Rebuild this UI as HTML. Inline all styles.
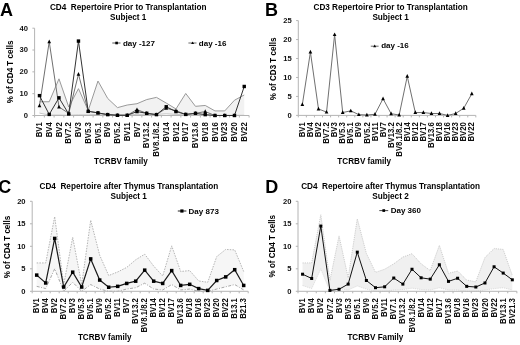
<!DOCTYPE html><html><head><meta charset="utf-8"><style>html,body{margin:0;padding:0;background:#fff;}svg{display:block;will-change:transform;}text{font-family:"Liberation Sans", sans-serif;}</style></head><body>
<svg width="520" height="345" viewBox="0 0 520 345">
<rect width="520" height="345" fill="#fff"/>
<polygon points="39.48,101.75 49.23,101.75 58.98,78.83 68.72,106.99 78.47,88.66 88.22,110.48 97.97,81.02 107.72,98.48 117.47,107.64 127.22,105.02 136.97,103.71 146.72,99.57 156.47,97.39 166.22,103.06 175.97,108.95 185.72,93.46 195.47,106.33 205.22,105.46 214.97,110.92 224.72,110.92 234.47,100.22 244.22,94.98 244.22,115.28 234.47,115.28 224.72,115.28 214.97,115.28 205.22,114.85 195.47,114.85 185.72,114.85 175.97,114.41 166.22,113.75 156.47,114.41 146.72,114.41 136.97,114.41 127.22,114.85 117.47,114.85 107.72,114.41 97.97,114.41 88.22,114.85 78.47,114.85 68.72,115.28 58.98,115.06 49.23,115.06 39.48,113.1" fill="#f2f2f2" stroke="none"/>
<polyline points="39.48,101.75 49.23,101.75 58.98,78.83 68.72,106.99 78.47,88.66 88.22,110.48 97.97,81.02 107.72,98.48 117.47,107.64 127.22,105.02 136.97,103.71 146.72,99.57 156.47,97.39 166.22,103.06 175.97,108.95 185.72,93.46 195.47,106.33 205.22,105.46 214.97,110.92 224.72,110.92 234.47,100.22 244.22,94.98" fill="none" stroke="#9a9a9a" stroke-width="1" />
<polyline points="39.48,113.1 49.23,115.06 58.98,115.06 68.72,115.28 78.47,114.85 88.22,114.85 97.97,114.41 107.72,114.41 117.47,114.85 127.22,114.85 136.97,114.41 146.72,114.41 156.47,114.41 166.22,113.75 175.97,114.41 185.72,114.85 195.47,114.85 205.22,114.85 214.97,115.28 224.72,115.28 234.47,115.28 244.22,115.28" fill="none" stroke="#c8c8c8" stroke-width="1" />
<g stroke="#b4b4b4" stroke-width="1" fill="none">
<line x1="34.6" y1="28.2" x2="34.6" y2="115.5"/>
<line x1="34.6" y1="115.5" x2="249.1" y2="115.5"/>
<line x1="32.4" y1="115.5" x2="34.6" y2="115.5"/>
<line x1="32.4" y1="93.67" x2="34.6" y2="93.67"/>
<line x1="32.4" y1="71.85" x2="34.6" y2="71.85"/>
<line x1="32.4" y1="50.03" x2="34.6" y2="50.03"/>
<line x1="32.4" y1="28.2" x2="34.6" y2="28.2"/>
<line x1="34.6" y1="115.5" x2="34.6" y2="117.5"/>
<line x1="44.35" y1="115.5" x2="44.35" y2="117.5"/>
<line x1="54.1" y1="115.5" x2="54.1" y2="117.5"/>
<line x1="63.85" y1="115.5" x2="63.85" y2="117.5"/>
<line x1="73.6" y1="115.5" x2="73.6" y2="117.5"/>
<line x1="83.35" y1="115.5" x2="83.35" y2="117.5"/>
<line x1="93.1" y1="115.5" x2="93.1" y2="117.5"/>
<line x1="102.85" y1="115.5" x2="102.85" y2="117.5"/>
<line x1="112.6" y1="115.5" x2="112.6" y2="117.5"/>
<line x1="122.35" y1="115.5" x2="122.35" y2="117.5"/>
<line x1="132.1" y1="115.5" x2="132.1" y2="117.5"/>
<line x1="141.85" y1="115.5" x2="141.85" y2="117.5"/>
<line x1="151.6" y1="115.5" x2="151.6" y2="117.5"/>
<line x1="161.35" y1="115.5" x2="161.35" y2="117.5"/>
<line x1="171.1" y1="115.5" x2="171.1" y2="117.5"/>
<line x1="180.85" y1="115.5" x2="180.85" y2="117.5"/>
<line x1="190.6" y1="115.5" x2="190.6" y2="117.5"/>
<line x1="200.35" y1="115.5" x2="200.35" y2="117.5"/>
<line x1="210.1" y1="115.5" x2="210.1" y2="117.5"/>
<line x1="219.85" y1="115.5" x2="219.85" y2="117.5"/>
<line x1="229.6" y1="115.5" x2="229.6" y2="117.5"/>
<line x1="239.35" y1="115.5" x2="239.35" y2="117.5"/>
<line x1="249.1" y1="115.5" x2="249.1" y2="117.5"/>
</g>
<g font-size="7.6" font-weight="bold" text-anchor="end" fill="#111">
<text x="28" y="117.8">0</text>
<text x="28" y="95.97">10</text>
<text x="28" y="74.15">20</text>
<text x="28" y="52.33">30</text>
<text x="28" y="30.5">40</text>
</g>
<g font-size="7.75" font-weight="bold" text-anchor="end" fill="#111">
<text transform="translate(42.08,122.3) rotate(-90) scale(1,1.12)">BV1</text>
<text transform="translate(51.83,122.3) rotate(-90) scale(1,1.12)">BV4</text>
<text transform="translate(61.58,122.3) rotate(-90) scale(1,1.12)">BV2</text>
<text transform="translate(71.32,122.3) rotate(-90) scale(1,1.12)">BV7.2</text>
<text transform="translate(81.07,122.3) rotate(-90) scale(1,1.12)">BV3</text>
<text transform="translate(90.82,122.3) rotate(-90) scale(1,1.12)">BV5.3</text>
<text transform="translate(100.57,122.3) rotate(-90) scale(1,1.12)">BV5.1</text>
<text transform="translate(110.32,122.3) rotate(-90) scale(1,1.12)">BV9</text>
<text transform="translate(120.07,122.3) rotate(-90) scale(1,1.12)">BV5.2</text>
<text transform="translate(129.82,122.3) rotate(-90) scale(1,1.12)">BV11</text>
<text transform="translate(139.57,122.3) rotate(-90) scale(1,1.12)">BV7</text>
<text transform="translate(149.32,122.3) rotate(-90) scale(1,1.12)">BV13.2</text>
<text transform="translate(159.07,122.3) rotate(-90) scale(1,1.12)">BV8.1/8.2</text>
<text transform="translate(168.82,122.3) rotate(-90) scale(1,1.12)">BV14</text>
<text transform="translate(178.57,122.3) rotate(-90) scale(1,1.12)">BV12</text>
<text transform="translate(188.32,122.3) rotate(-90) scale(1,1.12)">BV17</text>
<text transform="translate(198.07,122.3) rotate(-90) scale(1,1.12)">BV13.6</text>
<text transform="translate(207.82,122.3) rotate(-90) scale(1,1.12)">BV18</text>
<text transform="translate(217.57,122.3) rotate(-90) scale(1,1.12)">BV16</text>
<text transform="translate(227.32,122.3) rotate(-90) scale(1,1.12)">BV23</text>
<text transform="translate(237.07,122.3) rotate(-90) scale(1,1.12)">BV20</text>
<text transform="translate(246.82,122.3) rotate(-90) scale(1,1.12)">BV22</text>
</g>
<polyline points="39.48,105.68 49.23,41.73 58.98,106.99 68.72,113.32 78.47,74.25 88.22,111.14 97.97,112.88 107.72,114.63 117.47,115.28 127.22,115.28 136.97,109.61 146.72,113.32 156.47,114.63 166.22,108.3 175.97,110.7 185.72,114.41 195.47,113.32 205.22,111.57 214.97,115.5 224.72,115.5 234.47,115.5" fill="none" stroke="#707070" stroke-width="1.0"/>
<path d="M39.48 103.46L41.33 107.16L37.62 107.16Z" fill="#000"/>
<path d="M49.23 39.51L51.08 43.21L47.38 43.21Z" fill="#000"/>
<path d="M58.98 104.77L60.83 108.47L57.12 108.47Z" fill="#000"/>
<path d="M68.72 111.1L70.57 114.8L66.88 114.8Z" fill="#000"/>
<path d="M78.47 72.03L80.32 75.73L76.62 75.73Z" fill="#000"/>
<path d="M88.22 108.92L90.07 112.62L86.38 112.62Z" fill="#000"/>
<path d="M97.97 110.66L99.82 114.36L96.12 114.36Z" fill="#000"/>
<path d="M107.72 112.41L109.57 116.11L105.88 116.11Z" fill="#000"/>
<path d="M117.47 113.06L119.32 116.76L115.62 116.76Z" fill="#000"/>
<path d="M127.22 113.06L129.07 116.76L125.38 116.76Z" fill="#000"/>
<path d="M136.97 107.39L138.82 111.09L135.12 111.09Z" fill="#000"/>
<path d="M146.72 111.1L148.57 114.8L144.88 114.8Z" fill="#000"/>
<path d="M156.47 112.41L158.32 116.11L154.62 116.11Z" fill="#000"/>
<path d="M166.22 106.08L168.07 109.78L164.38 109.78Z" fill="#000"/>
<path d="M175.97 108.48L177.82 112.18L174.12 112.18Z" fill="#000"/>
<path d="M185.72 112.19L187.57 115.89L183.88 115.89Z" fill="#000"/>
<path d="M195.47 111.1L197.32 114.8L193.62 114.8Z" fill="#000"/>
<path d="M205.22 109.35L207.07 113.05L203.38 113.05Z" fill="#000"/>
<path d="M214.97 113.28L216.82 116.98L213.12 116.98Z" fill="#000"/>
<path d="M224.72 113.28L226.57 116.98L222.88 116.98Z" fill="#000"/>
<path d="M234.47 113.28L236.32 116.98L232.62 116.98Z" fill="#000"/>
<polyline points="39.48,95.64 49.23,114.41 58.98,97.82 68.72,113.97 78.47,41.08 88.22,111.35 97.97,112.88 107.72,114.63 117.47,115.28 127.22,115.28 136.97,111.57 146.72,113.32 156.47,114.63 166.22,106.77 175.97,111.57 185.72,114.41 195.47,113.32 205.22,114.63 214.97,115.5 224.72,115.5 234.47,115.5 244.22,86.47" fill="none" stroke="#333" stroke-width="1.0" stroke-linejoin="miter"/>
<rect x="37.77" y="93.94" width="3.4" height="3.4" fill="#000"/>
<rect x="47.52" y="112.71" width="3.4" height="3.4" fill="#000"/>
<rect x="57.27" y="96.12" width="3.4" height="3.4" fill="#000"/>
<rect x="67.02" y="112.27" width="3.4" height="3.4" fill="#000"/>
<rect x="76.77" y="39.38" width="3.4" height="3.4" fill="#000"/>
<rect x="86.52" y="109.65" width="3.4" height="3.4" fill="#000"/>
<rect x="96.27" y="111.18" width="3.4" height="3.4" fill="#000"/>
<rect x="106.02" y="112.93" width="3.4" height="3.4" fill="#000"/>
<rect x="115.77" y="113.58" width="3.4" height="3.4" fill="#000"/>
<rect x="125.52" y="113.58" width="3.4" height="3.4" fill="#000"/>
<rect x="135.28" y="109.87" width="3.4" height="3.4" fill="#000"/>
<rect x="145.03" y="111.62" width="3.4" height="3.4" fill="#000"/>
<rect x="154.78" y="112.93" width="3.4" height="3.4" fill="#000"/>
<rect x="164.53" y="105.07" width="3.4" height="3.4" fill="#000"/>
<rect x="174.28" y="109.87" width="3.4" height="3.4" fill="#000"/>
<rect x="184.03" y="112.71" width="3.4" height="3.4" fill="#000"/>
<rect x="193.78" y="111.62" width="3.4" height="3.4" fill="#000"/>
<rect x="203.53" y="112.93" width="3.4" height="3.4" fill="#000"/>
<rect x="213.28" y="113.8" width="3.4" height="3.4" fill="#000"/>
<rect x="223.03" y="113.8" width="3.4" height="3.4" fill="#000"/>
<rect x="232.78" y="113.8" width="3.4" height="3.4" fill="#000"/>
<rect x="242.53" y="84.77" width="3.4" height="3.4" fill="#000"/>
<text x="0" y="15.9" font-size="18" font-weight="bold" text-anchor="start" >A</text>
<text x="128.2" y="10" font-size="8.2" font-weight="bold" text-anchor="middle" >CD4&#160; Repertoire Prior to Transplantation</text>
<text x="128.2" y="20.2" font-size="8.2" font-weight="bold" text-anchor="middle" >Subject 1</text>
<line x1="112.3" y1="43" x2="120.5" y2="43" stroke="#444" stroke-width="0.9"/>
<rect x="115.3" y="41.7" width="2.6" height="2.6" fill="#000"/>
<text x="122.9" y="45.6" font-size="8" font-weight="bold" text-anchor="start" >day -127</text>
<line x1="188.4" y1="43" x2="196.5" y2="43" stroke="#444" stroke-width="0.8"/>
<path d="M192.6 41.4L194.1 44.0L191.1 44.0Z" fill="#000"/>
<text x="198.8" y="45.6" font-size="8" font-weight="bold" text-anchor="start" >day -16</text>
<text x="120.9" y="164.2" font-size="8.15" font-weight="bold" text-anchor="middle" >TCRBV family</text>
<text x="0" y="0" font-size="7.9" font-weight="bold" text-anchor="middle" transform="translate(12.8,71.9) rotate(-90) scale(1.02,1.08)">% of CD4 T cells</text>
<g stroke="#b4b4b4" stroke-width="1" fill="none">
<line x1="298.3" y1="20.6" x2="298.3" y2="115.4"/>
<line x1="298.3" y1="115.4" x2="475.84" y2="115.4"/>
<line x1="296.1" y1="115.4" x2="298.3" y2="115.4"/>
<line x1="296.1" y1="96.44" x2="298.3" y2="96.44"/>
<line x1="296.1" y1="77.48" x2="298.3" y2="77.48"/>
<line x1="296.1" y1="58.52" x2="298.3" y2="58.52"/>
<line x1="296.1" y1="39.56" x2="298.3" y2="39.56"/>
<line x1="296.1" y1="20.6" x2="298.3" y2="20.6"/>
<line x1="298.3" y1="115.4" x2="298.3" y2="117.4"/>
<line x1="306.37" y1="115.4" x2="306.37" y2="117.4"/>
<line x1="314.44" y1="115.4" x2="314.44" y2="117.4"/>
<line x1="322.51" y1="115.4" x2="322.51" y2="117.4"/>
<line x1="330.58" y1="115.4" x2="330.58" y2="117.4"/>
<line x1="338.65" y1="115.4" x2="338.65" y2="117.4"/>
<line x1="346.72" y1="115.4" x2="346.72" y2="117.4"/>
<line x1="354.79" y1="115.4" x2="354.79" y2="117.4"/>
<line x1="362.86" y1="115.4" x2="362.86" y2="117.4"/>
<line x1="370.93" y1="115.4" x2="370.93" y2="117.4"/>
<line x1="379" y1="115.4" x2="379" y2="117.4"/>
<line x1="387.07" y1="115.4" x2="387.07" y2="117.4"/>
<line x1="395.14" y1="115.4" x2="395.14" y2="117.4"/>
<line x1="403.21" y1="115.4" x2="403.21" y2="117.4"/>
<line x1="411.28" y1="115.4" x2="411.28" y2="117.4"/>
<line x1="419.35" y1="115.4" x2="419.35" y2="117.4"/>
<line x1="427.42" y1="115.4" x2="427.42" y2="117.4"/>
<line x1="435.49" y1="115.4" x2="435.49" y2="117.4"/>
<line x1="443.56" y1="115.4" x2="443.56" y2="117.4"/>
<line x1="451.63" y1="115.4" x2="451.63" y2="117.4"/>
<line x1="459.7" y1="115.4" x2="459.7" y2="117.4"/>
<line x1="467.77" y1="115.4" x2="467.77" y2="117.4"/>
<line x1="475.84" y1="115.4" x2="475.84" y2="117.4"/>
</g>
<g font-size="7.6" font-weight="bold" text-anchor="end" fill="#111">
<text x="291.7" y="117.7">0</text>
<text x="291.7" y="98.74">5</text>
<text x="291.7" y="79.78">10</text>
<text x="291.7" y="60.82">15</text>
<text x="291.7" y="41.86">20</text>
<text x="291.7" y="22.9">25</text>
</g>
<g font-size="7.75" font-weight="bold" text-anchor="end" fill="#111">
<text transform="translate(304.94,122.2) rotate(-90) scale(1,1.12)">BV1</text>
<text transform="translate(313.01,122.2) rotate(-90) scale(1,1.12)">BV4</text>
<text transform="translate(321.08,122.2) rotate(-90) scale(1,1.12)">BV2</text>
<text transform="translate(329.15,122.2) rotate(-90) scale(1,1.12)">BV7.2</text>
<text transform="translate(337.22,122.2) rotate(-90) scale(1,1.12)">BV3</text>
<text transform="translate(345.29,122.2) rotate(-90) scale(1,1.12)">BV5.3</text>
<text transform="translate(353.36,122.2) rotate(-90) scale(1,1.12)">BV5.1</text>
<text transform="translate(361.43,122.2) rotate(-90) scale(1,1.12)">BV9</text>
<text transform="translate(369.5,122.2) rotate(-90) scale(1,1.12)">BV5.2</text>
<text transform="translate(377.57,122.2) rotate(-90) scale(1,1.12)">BV11</text>
<text transform="translate(385.64,122.2) rotate(-90) scale(1,1.12)">BV7</text>
<text transform="translate(393.71,122.2) rotate(-90) scale(1,1.12)">BV13.2</text>
<text transform="translate(401.78,122.2) rotate(-90) scale(1,1.12)">BV8.1/8.2</text>
<text transform="translate(409.85,122.2) rotate(-90) scale(1,1.12)">BV14</text>
<text transform="translate(417.92,122.2) rotate(-90) scale(1,1.12)">BV12</text>
<text transform="translate(425.99,122.2) rotate(-90) scale(1,1.12)">BV17</text>
<text transform="translate(434.06,122.2) rotate(-90) scale(1,1.12)">BV13.6</text>
<text transform="translate(442.12,122.2) rotate(-90) scale(1,1.12)">BV18</text>
<text transform="translate(450.2,122.2) rotate(-90) scale(1,1.12)">BV16</text>
<text transform="translate(458.27,122.2) rotate(-90) scale(1,1.12)">BV23</text>
<text transform="translate(466.34,122.2) rotate(-90) scale(1,1.12)">BV20</text>
<text transform="translate(474.41,122.2) rotate(-90) scale(1,1.12)">BV22</text>
</g>
<polyline points="302.34,104.59 310.41,52.07 318.48,108.95 326.55,112.1 334.62,34.63 342.69,112.52 350.75,110.85 358.83,114.64 366.89,115.02 374.97,114.26 383.04,98.72 391.11,113.69 399.18,115.02 407.25,76.34 415.31,112.56 423.38,112.56 431.46,113.5 439.52,113.5 447.6,115.4 455.67,113.5 463.74,108.2 471.81,93.79" fill="none" stroke="#707070" stroke-width="1.0"/>
<path d="M302.34 102.37L304.19 106.07L300.49 106.07Z" fill="#000"/>
<path d="M310.41 49.85L312.26 53.55L308.56 53.55Z" fill="#000"/>
<path d="M318.48 106.73L320.33 110.43L316.62 110.43Z" fill="#000"/>
<path d="M326.55 109.88L328.4 113.58L324.69 113.58Z" fill="#000"/>
<path d="M334.62 32.41L336.47 36.11L332.76 36.11Z" fill="#000"/>
<path d="M342.69 110.3L344.54 114L340.83 114Z" fill="#000"/>
<path d="M350.75 108.63L352.61 112.33L348.9 112.33Z" fill="#000"/>
<path d="M358.83 112.42L360.68 116.12L356.98 116.12Z" fill="#000"/>
<path d="M366.89 112.8L368.75 116.5L365.04 116.5Z" fill="#000"/>
<path d="M374.97 112.04L376.82 115.74L373.12 115.74Z" fill="#000"/>
<path d="M383.04 96.5L384.89 100.2L381.19 100.2Z" fill="#000"/>
<path d="M391.11 111.47L392.96 115.17L389.25 115.17Z" fill="#000"/>
<path d="M399.18 112.8L401.03 116.5L397.32 116.5Z" fill="#000"/>
<path d="M407.25 74.12L409.1 77.82L405.39 77.82Z" fill="#000"/>
<path d="M415.31 110.34L417.17 114.04L413.46 114.04Z" fill="#000"/>
<path d="M423.38 110.34L425.24 114.04L421.53 114.04Z" fill="#000"/>
<path d="M431.46 111.28L433.31 114.98L429.61 114.98Z" fill="#000"/>
<path d="M439.52 111.28L441.38 114.98L437.67 114.98Z" fill="#000"/>
<path d="M447.6 113.18L449.45 116.88L445.75 116.88Z" fill="#000"/>
<path d="M455.67 111.28L457.52 114.98L453.81 114.98Z" fill="#000"/>
<path d="M463.74 105.98L465.59 109.68L461.88 109.68Z" fill="#000"/>
<path d="M471.81 91.57L473.66 95.27L469.95 95.27Z" fill="#000"/>
<text x="265.1" y="15.9" font-size="18" font-weight="bold" text-anchor="start" >B</text>
<text x="390.6" y="10" font-size="8.2" font-weight="bold" text-anchor="middle" >CD3 Repertoire Prior to Transplantation</text>
<text x="390.6" y="20.2" font-size="8.2" font-weight="bold" text-anchor="middle" >Subject 1</text>
<line x1="370.8" y1="46.2" x2="378.6" y2="46.2" stroke="#444" stroke-width="0.8"/>
<path d="M374.7 44.6L376.2 47.2L373.2 47.2Z" fill="#000"/>
<text x="381.2" y="47.9" font-size="8" font-weight="bold" text-anchor="start" >day -16</text>
<text x="364.2" y="164.2" font-size="8.15" font-weight="bold" text-anchor="middle" >TCRBV family</text>
<text x="0" y="0" font-size="7.9" font-weight="bold" text-anchor="middle" transform="translate(276.2,68.9) rotate(-90) scale(1.02,1.08)">% of CD3 T cells</text>
<polygon points="36.7,262.95 45.7,262.95 54.7,216.6 63.7,284.55 72.7,237.3 81.7,284.55 90.7,220.2 99.7,255.3 108.7,275.55 117.7,271.95 126.7,267.45 135.7,259.8 144.7,254.18 153.7,266.1 162.7,276 171.7,245.85 180.7,271.5 189.7,270.6 198.7,280.95 207.7,282.3 216.7,256.65 225.7,249.45 234.7,249.9 243.7,271.5 243.7,289.95 234.7,284.55 225.7,286.8 216.7,289.05 207.7,291.3 198.7,291.3 189.7,289.05 180.7,289.95 171.7,284.55 162.7,289.95 153.7,289.05 144.7,283.2 135.7,287.7 126.7,289.05 117.7,291.3 108.7,291.3 99.7,289.05 90.7,284.55 81.7,291.3 72.7,282.3 63.7,291.3 54.7,268.8 45.7,288.6 36.7,286.35" fill="#f6f6f6" stroke="none"/>
<polyline points="36.7,262.95 45.7,262.95 54.7,216.6 63.7,284.55 72.7,237.3 81.7,284.55 90.7,220.2 99.7,255.3 108.7,275.55 117.7,271.95 126.7,267.45 135.7,259.8 144.7,254.18 153.7,266.1 162.7,276 171.7,245.85 180.7,271.5 189.7,270.6 198.7,280.95 207.7,282.3 216.7,256.65 225.7,249.45 234.7,249.9 243.7,271.5" fill="none" stroke="#b4b4b4" stroke-width="1" stroke-dasharray="1.5,1.2"/>
<polyline points="36.7,286.35 45.7,288.6 54.7,268.8 63.7,291.3 72.7,282.3 81.7,291.3 90.7,284.55 99.7,289.05 108.7,291.3 117.7,291.3 126.7,289.05 135.7,287.7 144.7,283.2 153.7,289.05 162.7,289.95 171.7,284.55 180.7,289.95 189.7,289.05 198.7,291.3 207.7,291.3 216.7,289.05 225.7,286.8 234.7,284.55 243.7,289.95" fill="none" stroke="#a8a8a8" stroke-width="1" stroke-dasharray="3,1.5,1,1.5"/>
<g stroke="#b4b4b4" stroke-width="1" fill="none">
<line x1="32.2" y1="201.3" x2="32.2" y2="291.3"/>
<line x1="32.2" y1="291.3" x2="248.2" y2="291.3"/>
<line x1="30" y1="291.3" x2="32.2" y2="291.3"/>
<line x1="30" y1="268.8" x2="32.2" y2="268.8"/>
<line x1="30" y1="246.3" x2="32.2" y2="246.3"/>
<line x1="30" y1="223.8" x2="32.2" y2="223.8"/>
<line x1="30" y1="201.3" x2="32.2" y2="201.3"/>
<line x1="32.2" y1="291.3" x2="32.2" y2="293.3"/>
<line x1="41.2" y1="291.3" x2="41.2" y2="293.3"/>
<line x1="50.2" y1="291.3" x2="50.2" y2="293.3"/>
<line x1="59.2" y1="291.3" x2="59.2" y2="293.3"/>
<line x1="68.2" y1="291.3" x2="68.2" y2="293.3"/>
<line x1="77.2" y1="291.3" x2="77.2" y2="293.3"/>
<line x1="86.2" y1="291.3" x2="86.2" y2="293.3"/>
<line x1="95.2" y1="291.3" x2="95.2" y2="293.3"/>
<line x1="104.2" y1="291.3" x2="104.2" y2="293.3"/>
<line x1="113.2" y1="291.3" x2="113.2" y2="293.3"/>
<line x1="122.2" y1="291.3" x2="122.2" y2="293.3"/>
<line x1="131.2" y1="291.3" x2="131.2" y2="293.3"/>
<line x1="140.2" y1="291.3" x2="140.2" y2="293.3"/>
<line x1="149.2" y1="291.3" x2="149.2" y2="293.3"/>
<line x1="158.2" y1="291.3" x2="158.2" y2="293.3"/>
<line x1="167.2" y1="291.3" x2="167.2" y2="293.3"/>
<line x1="176.2" y1="291.3" x2="176.2" y2="293.3"/>
<line x1="185.2" y1="291.3" x2="185.2" y2="293.3"/>
<line x1="194.2" y1="291.3" x2="194.2" y2="293.3"/>
<line x1="203.2" y1="291.3" x2="203.2" y2="293.3"/>
<line x1="212.2" y1="291.3" x2="212.2" y2="293.3"/>
<line x1="221.2" y1="291.3" x2="221.2" y2="293.3"/>
<line x1="230.2" y1="291.3" x2="230.2" y2="293.3"/>
<line x1="239.2" y1="291.3" x2="239.2" y2="293.3"/>
<line x1="248.2" y1="291.3" x2="248.2" y2="293.3"/>
</g>
<g font-size="7.6" font-weight="bold" text-anchor="end" fill="#111">
<text x="25.6" y="293.6">0</text>
<text x="25.6" y="271.1">5</text>
<text x="25.6" y="248.6">10</text>
<text x="25.6" y="226.1">15</text>
<text x="25.6" y="203.6">20</text>
</g>
<g font-size="7.75" font-weight="bold" text-anchor="end" fill="#111">
<text transform="translate(39.3,298.1) rotate(-90) scale(1,1.12)">BV1</text>
<text transform="translate(48.3,298.1) rotate(-90) scale(1,1.12)">BV4</text>
<text transform="translate(57.3,298.1) rotate(-90) scale(1,1.12)">BV2</text>
<text transform="translate(66.3,298.1) rotate(-90) scale(1,1.12)">BV7.2</text>
<text transform="translate(75.3,298.1) rotate(-90) scale(1,1.12)">BV3</text>
<text transform="translate(84.3,298.1) rotate(-90) scale(1,1.12)">BV5.3</text>
<text transform="translate(93.3,298.1) rotate(-90) scale(1,1.12)">BV5.1</text>
<text transform="translate(102.3,298.1) rotate(-90) scale(1,1.12)">BV9</text>
<text transform="translate(111.3,298.1) rotate(-90) scale(1,1.12)">BV5.2</text>
<text transform="translate(120.3,298.1) rotate(-90) scale(1,1.12)">BV11</text>
<text transform="translate(129.3,298.1) rotate(-90) scale(1,1.12)">BV7</text>
<text transform="translate(138.3,298.1) rotate(-90) scale(1,1.12)">BV13.2</text>
<text transform="translate(147.3,298.1) rotate(-90) scale(1,1.12)">BV8.1/8.2</text>
<text transform="translate(156.3,298.1) rotate(-90) scale(1,1.12)">BV14</text>
<text transform="translate(165.3,298.1) rotate(-90) scale(1,1.12)">BV12</text>
<text transform="translate(174.3,298.1) rotate(-90) scale(1,1.12)">BV17</text>
<text transform="translate(183.3,298.1) rotate(-90) scale(1,1.12)">BV13.6</text>
<text transform="translate(192.3,298.1) rotate(-90) scale(1,1.12)">BV18</text>
<text transform="translate(201.3,298.1) rotate(-90) scale(1,1.12)">BV16</text>
<text transform="translate(210.3,298.1) rotate(-90) scale(1,1.12)">BV23</text>
<text transform="translate(219.3,298.1) rotate(-90) scale(1,1.12)">BV20</text>
<text transform="translate(228.3,298.1) rotate(-90) scale(1,1.12)">BV22</text>
<text transform="translate(237.3,298.1) rotate(-90) scale(1,1.12)">B13.1</text>
<text transform="translate(246.3,298.1) rotate(-90) scale(1,1.12)">B21.3</text>
</g>
<polyline points="36.7,275.1 45.7,282.98 54.7,238.43 63.7,287.03 72.7,272.18 81.7,287.03 90.7,258.9 99.7,280.05 108.7,287.25 117.7,286.35 126.7,283.43 135.7,281.18 144.7,270.15 153.7,281.18 162.7,283.43 171.7,270.6 180.7,285.45 189.7,284.32 198.7,288.6 207.7,290.4 216.7,280.5 225.7,276.9 234.7,269.7 243.7,285.45" fill="none" stroke="#1a1a1a" stroke-width="1.2" stroke-linejoin="miter"/>
<rect x="34.95" y="273.35" width="3.5" height="3.5" fill="#000"/>
<rect x="43.95" y="281.23" width="3.5" height="3.5" fill="#000"/>
<rect x="52.95" y="236.68" width="3.5" height="3.5" fill="#000"/>
<rect x="61.95" y="285.28" width="3.5" height="3.5" fill="#000"/>
<rect x="70.95" y="270.43" width="3.5" height="3.5" fill="#000"/>
<rect x="79.95" y="285.28" width="3.5" height="3.5" fill="#000"/>
<rect x="88.95" y="257.15" width="3.5" height="3.5" fill="#000"/>
<rect x="97.95" y="278.3" width="3.5" height="3.5" fill="#000"/>
<rect x="106.95" y="285.5" width="3.5" height="3.5" fill="#000"/>
<rect x="115.95" y="284.6" width="3.5" height="3.5" fill="#000"/>
<rect x="124.95" y="281.68" width="3.5" height="3.5" fill="#000"/>
<rect x="133.95" y="279.43" width="3.5" height="3.5" fill="#000"/>
<rect x="142.95" y="268.4" width="3.5" height="3.5" fill="#000"/>
<rect x="151.95" y="279.43" width="3.5" height="3.5" fill="#000"/>
<rect x="160.95" y="281.68" width="3.5" height="3.5" fill="#000"/>
<rect x="169.95" y="268.85" width="3.5" height="3.5" fill="#000"/>
<rect x="178.95" y="283.7" width="3.5" height="3.5" fill="#000"/>
<rect x="187.95" y="282.57" width="3.5" height="3.5" fill="#000"/>
<rect x="196.95" y="286.85" width="3.5" height="3.5" fill="#000"/>
<rect x="205.95" y="288.65" width="3.5" height="3.5" fill="#000"/>
<rect x="214.95" y="278.75" width="3.5" height="3.5" fill="#000"/>
<rect x="223.95" y="275.15" width="3.5" height="3.5" fill="#000"/>
<rect x="232.95" y="267.95" width="3.5" height="3.5" fill="#000"/>
<rect x="241.95" y="283.7" width="3.5" height="3.5" fill="#000"/>
<text x="-1.7" y="192.8" font-size="18" font-weight="bold" text-anchor="start" >C</text>
<text x="128.9" y="188.8" font-size="8.2" font-weight="bold" text-anchor="middle" >CD4&#160; Repertoire after Thymus Transplantation</text>
<text x="128.7" y="199.2" font-size="8.2" font-weight="bold" text-anchor="middle" >Subject 1</text>
<line x1="177.8" y1="211" x2="186.4" y2="211" stroke="#222" stroke-width="1"/>
<rect x="180.3" y="209.4" width="3.2" height="3.2" fill="#000"/>
<text x="188.6" y="213.8" font-size="8" font-weight="bold" text-anchor="start" >Day 873</text>
<text x="104.75" y="340.2" font-size="8.15" font-weight="bold" text-anchor="middle" >TCRBV family</text>
<text x="0" y="0" font-size="7.9" font-weight="bold" text-anchor="middle" transform="translate(9.5,247) rotate(-90) scale(1.02,1.08)">% of CD4 T cells</text>
<polygon points="302.56,262.95 311.68,262.95 320.8,214.8 329.92,280.5 339.04,235.95 348.16,277.8 357.28,218.85 366.4,253.5 375.52,272.4 384.64,269.25 393.76,263.85 402.88,257.1 412,253.73 421.12,263.85 430.24,270.6 439.36,245.4 448.48,273.3 457.6,271.05 466.72,280.05 475.84,281.85 484.96,257.55 494.08,248.55 503.2,249.45 512.32,275.55 512.32,289.95 503.2,287.7 494.08,288.6 484.96,289.95 475.84,291.3 466.72,291.3 457.6,289.95 448.48,289.95 439.36,287.7 430.24,289.95 421.12,289.5 412,288.15 402.88,289.5 393.76,289.95 384.64,291.3 375.52,291.3 366.4,289.05 357.28,285.9 348.16,289.95 339.04,288.6 329.92,291.3 320.8,268.8 311.68,288.6 302.56,285.45" fill="#f0f0f0" stroke="none"/>
<polyline points="302.56,262.95 311.68,262.95 320.8,214.8 329.92,280.5 339.04,235.95 348.16,277.8 357.28,218.85 366.4,253.5 375.52,272.4 384.64,269.25 393.76,263.85 402.88,257.1 412,253.73 421.12,263.85 430.24,270.6 439.36,245.4 448.48,273.3 457.6,271.05 466.72,280.05 475.84,281.85 484.96,257.55 494.08,248.55 503.2,249.45 512.32,275.55" fill="none" stroke="#cdcdcd" stroke-width="1" stroke-dasharray="1.2,1"/>
<polyline points="302.56,285.45 311.68,288.6 320.8,268.8 329.92,291.3 339.04,288.6 348.16,289.95 357.28,285.9 366.4,289.05 375.52,291.3 384.64,291.3 393.76,289.95 402.88,289.5 412,288.15 421.12,289.5 430.24,289.95 439.36,287.7 448.48,289.95 457.6,289.95 466.72,291.3 475.84,291.3 484.96,289.95 494.08,288.6 503.2,287.7 512.32,289.95" fill="none" stroke="#dcdcdc" stroke-width="1" stroke-dasharray="1.2,1"/>
<g stroke="#b4b4b4" stroke-width="1" fill="none">
<line x1="298" y1="201.3" x2="298" y2="291.3"/>
<line x1="298" y1="291.3" x2="516.88" y2="291.3"/>
<line x1="295.8" y1="291.3" x2="298" y2="291.3"/>
<line x1="295.8" y1="268.8" x2="298" y2="268.8"/>
<line x1="295.8" y1="246.3" x2="298" y2="246.3"/>
<line x1="295.8" y1="223.8" x2="298" y2="223.8"/>
<line x1="295.8" y1="201.3" x2="298" y2="201.3"/>
<line x1="298" y1="291.3" x2="298" y2="293.3"/>
<line x1="307.12" y1="291.3" x2="307.12" y2="293.3"/>
<line x1="316.24" y1="291.3" x2="316.24" y2="293.3"/>
<line x1="325.36" y1="291.3" x2="325.36" y2="293.3"/>
<line x1="334.48" y1="291.3" x2="334.48" y2="293.3"/>
<line x1="343.6" y1="291.3" x2="343.6" y2="293.3"/>
<line x1="352.72" y1="291.3" x2="352.72" y2="293.3"/>
<line x1="361.84" y1="291.3" x2="361.84" y2="293.3"/>
<line x1="370.96" y1="291.3" x2="370.96" y2="293.3"/>
<line x1="380.08" y1="291.3" x2="380.08" y2="293.3"/>
<line x1="389.2" y1="291.3" x2="389.2" y2="293.3"/>
<line x1="398.32" y1="291.3" x2="398.32" y2="293.3"/>
<line x1="407.44" y1="291.3" x2="407.44" y2="293.3"/>
<line x1="416.56" y1="291.3" x2="416.56" y2="293.3"/>
<line x1="425.68" y1="291.3" x2="425.68" y2="293.3"/>
<line x1="434.8" y1="291.3" x2="434.8" y2="293.3"/>
<line x1="443.92" y1="291.3" x2="443.92" y2="293.3"/>
<line x1="453.04" y1="291.3" x2="453.04" y2="293.3"/>
<line x1="462.16" y1="291.3" x2="462.16" y2="293.3"/>
<line x1="471.28" y1="291.3" x2="471.28" y2="293.3"/>
<line x1="480.4" y1="291.3" x2="480.4" y2="293.3"/>
<line x1="489.52" y1="291.3" x2="489.52" y2="293.3"/>
<line x1="498.64" y1="291.3" x2="498.64" y2="293.3"/>
<line x1="507.76" y1="291.3" x2="507.76" y2="293.3"/>
<line x1="516.88" y1="291.3" x2="516.88" y2="293.3"/>
</g>
<g font-size="7.6" font-weight="bold" text-anchor="end" fill="#111">
<text x="291.4" y="293.6">0</text>
<text x="291.4" y="271.1">5</text>
<text x="291.4" y="248.6">10</text>
<text x="291.4" y="226.1">15</text>
<text x="291.4" y="203.6">20</text>
</g>
<g font-size="7.75" font-weight="bold" text-anchor="end" fill="#111">
<text transform="translate(305.16,298.1) rotate(-90) scale(1,1.12)">BV1</text>
<text transform="translate(314.28,298.1) rotate(-90) scale(1,1.12)">BV4</text>
<text transform="translate(323.4,298.1) rotate(-90) scale(1,1.12)">BV2</text>
<text transform="translate(332.52,298.1) rotate(-90) scale(1,1.12)">BV7.2</text>
<text transform="translate(341.64,298.1) rotate(-90) scale(1,1.12)">BV3</text>
<text transform="translate(350.76,298.1) rotate(-90) scale(1,1.12)">BV5.3</text>
<text transform="translate(359.88,298.1) rotate(-90) scale(1,1.12)">BV5.1</text>
<text transform="translate(369,298.1) rotate(-90) scale(1,1.12)">BV9</text>
<text transform="translate(378.12,298.1) rotate(-90) scale(1,1.12)">BV5.2</text>
<text transform="translate(387.24,298.1) rotate(-90) scale(1,1.12)">BV11</text>
<text transform="translate(396.36,298.1) rotate(-90) scale(1,1.12)">BV7.1</text>
<text transform="translate(405.48,298.1) rotate(-90) scale(1,1.12)">BV13.2</text>
<text transform="translate(414.6,298.1) rotate(-90) scale(1,1.12)">BV8.1/8.2</text>
<text transform="translate(423.72,298.1) rotate(-90) scale(1,1.12)">BV14</text>
<text transform="translate(432.84,298.1) rotate(-90) scale(1,1.12)">BV12</text>
<text transform="translate(441.96,298.1) rotate(-90) scale(1,1.12)">BV17</text>
<text transform="translate(451.08,298.1) rotate(-90) scale(1,1.12)">BV13.6</text>
<text transform="translate(460.2,298.1) rotate(-90) scale(1,1.12)">BV18</text>
<text transform="translate(469.32,298.1) rotate(-90) scale(1,1.12)">BV16</text>
<text transform="translate(478.44,298.1) rotate(-90) scale(1,1.12)">BV23</text>
<text transform="translate(487.56,298.1) rotate(-90) scale(1,1.12)">BV20</text>
<text transform="translate(496.68,298.1) rotate(-90) scale(1,1.12)">BV22</text>
<text transform="translate(505.8,298.1) rotate(-90) scale(1,1.12)">BV13.1</text>
<text transform="translate(514.92,298.1) rotate(-90) scale(1,1.12)">BV21.3</text>
</g>
<polyline points="302.56,274.2 311.68,278.48 320.8,226.05 329.92,290.4 339.04,289.28 348.16,284.1 357.28,252.15 366.4,280.5 375.52,287.7 384.64,286.8 393.76,278.03 402.88,284.1 412,269.25 421.12,277.8 430.24,279.15 439.36,264.75 448.48,281.4 457.6,278.25 466.72,286.35 475.84,287.03 484.96,282.98 494.08,266.78 503.2,273.07 512.32,279.82" fill="none" stroke="#111" stroke-width="1.0" stroke-linejoin="miter"/>
<rect x="301.06" y="272.7" width="3.0" height="3.0" fill="#000"/>
<rect x="310.18" y="276.98" width="3.0" height="3.0" fill="#000"/>
<rect x="319.3" y="224.55" width="3.0" height="3.0" fill="#000"/>
<rect x="328.42" y="288.9" width="3.0" height="3.0" fill="#000"/>
<rect x="337.54" y="287.78" width="3.0" height="3.0" fill="#000"/>
<rect x="346.66" y="282.6" width="3.0" height="3.0" fill="#000"/>
<rect x="355.78" y="250.65" width="3.0" height="3.0" fill="#000"/>
<rect x="364.9" y="279" width="3.0" height="3.0" fill="#000"/>
<rect x="374.02" y="286.2" width="3.0" height="3.0" fill="#000"/>
<rect x="383.14" y="285.3" width="3.0" height="3.0" fill="#000"/>
<rect x="392.26" y="276.53" width="3.0" height="3.0" fill="#000"/>
<rect x="401.38" y="282.6" width="3.0" height="3.0" fill="#000"/>
<rect x="410.5" y="267.75" width="3.0" height="3.0" fill="#000"/>
<rect x="419.62" y="276.3" width="3.0" height="3.0" fill="#000"/>
<rect x="428.74" y="277.65" width="3.0" height="3.0" fill="#000"/>
<rect x="437.86" y="263.25" width="3.0" height="3.0" fill="#000"/>
<rect x="446.98" y="279.9" width="3.0" height="3.0" fill="#000"/>
<rect x="456.1" y="276.75" width="3.0" height="3.0" fill="#000"/>
<rect x="465.22" y="284.85" width="3.0" height="3.0" fill="#000"/>
<rect x="474.34" y="285.53" width="3.0" height="3.0" fill="#000"/>
<rect x="483.46" y="281.48" width="3.0" height="3.0" fill="#000"/>
<rect x="492.58" y="265.28" width="3.0" height="3.0" fill="#000"/>
<rect x="501.7" y="271.57" width="3.0" height="3.0" fill="#000"/>
<rect x="510.82" y="278.32" width="3.0" height="3.0" fill="#000"/>
<text x="265.2" y="193" font-size="18" font-weight="bold" text-anchor="start" >D</text>
<text x="390.6" y="188.8" font-size="8.2" font-weight="bold" text-anchor="middle" >CD4&#160; Repertoire after Thymus Transplantation</text>
<text x="390.5" y="199.2" font-size="8.2" font-weight="bold" text-anchor="middle" >Subject 2</text>
<line x1="379.3" y1="210.6" x2="388.2" y2="210.6" stroke="#333" stroke-width="0.9"/>
<rect x="382.4" y="209.2" width="2.7" height="2.7" fill="#000"/>
<text x="390.7" y="213.1" font-size="8" font-weight="bold" text-anchor="start" >Day 360</text>
<text x="375.4" y="340.4" font-size="8.15" font-weight="bold" text-anchor="middle" >TCRBV Family</text>
<text x="0" y="0" font-size="7.9" font-weight="bold" text-anchor="middle" transform="translate(275.2,246.2) rotate(-90) scale(1.02,1.08)">% of CD4 T cells</text>
</svg></body></html>
